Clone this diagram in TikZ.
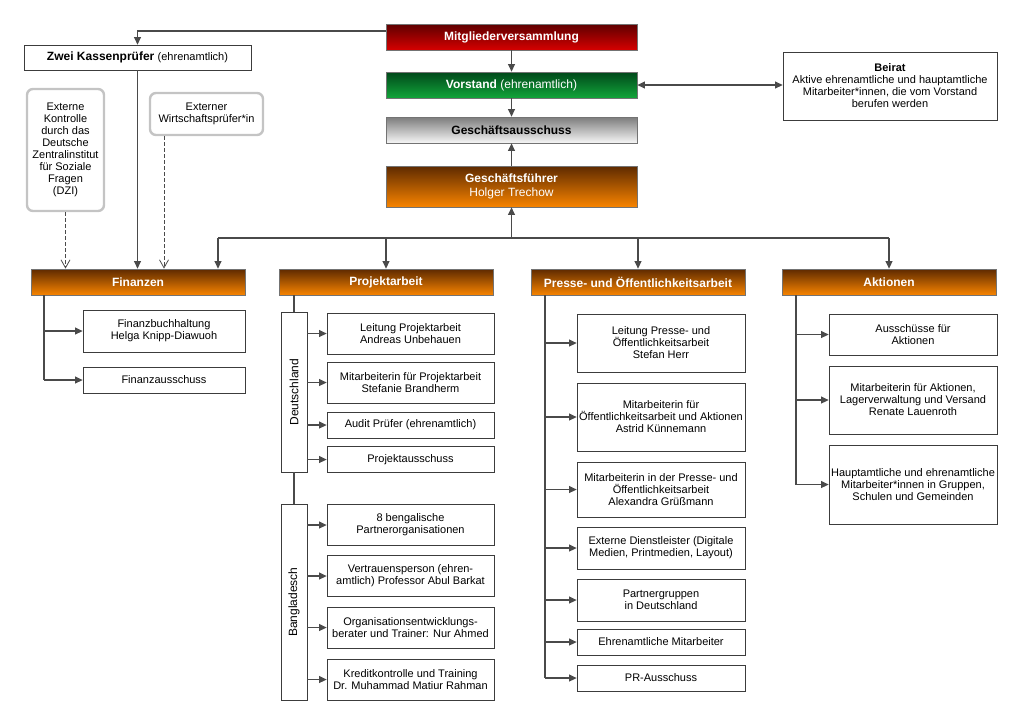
\documentclass[tikz,border=0pt]{standalone}
\usepackage{fontspec}
\setmainfont{Liberation Sans}
\usetikzlibrary{arrows.meta}

\definecolor{linegray}{HTML}{4A4A4A}
\definecolor{boxgray}{HTML}{3C3C3C}
\definecolor{softgray}{HTML}{C4C4C4}
\definecolor{redtop}{HTML}{5E0000}
\definecolor{redbot}{HTML}{D60000}
\definecolor{greentop}{HTML}{00481A}
\definecolor{greenbot}{HTML}{12A53A}
\definecolor{graytop}{HTML}{7C7C7C}
\definecolor{graybot}{HTML}{F6F6F6}
\definecolor{orangetop}{HTML}{5E2A00}
\definecolor{orangebot}{HTML}{F88400}

\tikzset{
  conn/.style={draw=linegray, line width=1.1pt},
  arr/.style={conn, -{Triangle[length=7.5pt,width=7pt]}},
  dasharr/.style={draw=linegray, line width=0.8pt, dash pattern=on 4pt off 2pt,
    -{Straight Barb[length=8pt,width=9pt]}},
  plainbox/.style={draw=boxgray, fill=white, line width=0.8pt, align=center,
    inner sep=0pt, font=\fontsize{11}{12}\selectfont},
  softbox/.style={draw=softgray, fill=white, line width=2.4pt, rounded corners=6pt,
    align=center, inner sep=0pt, font=\fontsize{11}{12}\selectfont},
  headbox/.style={draw=black!55, line width=0.8pt, align=center, inner sep=0pt,
    text=white, font=\fontsize{12}{13.3}\selectfont\bfseries,
    top color=orangetop, bottom color=orangebot},
  topbox/.style={headbox, minimum width=251pt, minimum height=26pt},
  sidebox/.style={plainbox, minimum width=26pt, font=\fontsize{12}{13}\selectfont},
}

\begin{document}
\begin{tikzpicture}[x=1pt,y=-1pt]
\useasboundingbox (0,0) rectangle (1024,724);

% Leitung in der Mitte
\node[topbox, top color=redtop, bottom color=redbot] (mv) at (511.5,37) {Mitgliederversammlung};
\node[topbox, top color=greentop, bottom color=greenbot] (vs) at (511.5,85)
  {Vorstand \mdseries(ehrenamtlich)};
\node[topbox, top color=graytop, bottom color=graybot, text=black] (ga) at (511.5,130) {Geschäftsausschuss};
\node[topbox, minimum height=41pt] (gf) at (511.5,186.5) {Geschäftsführer\\\mdseries Holger Trechow};

% Beirat
\node[plainbox, minimum width=214pt, minimum height=68pt] (beirat) at (890,86)
  {\textbf{Beirat}\\Aktive ehrenamtliche und hauptamtliche\\Mitarbeiter*innen, die vom Vorstand\\berufen werden};

% Kassenpruefer und externe Pruefung
\node[plainbox, minimum width=227pt, minimum height=25pt] (kp) at (137.5,57.5)
  {\fontsize{12}{13}\selectfont\textbf{Zwei Kassenprüfer} {\fontsize{11}{12}\selectfont(ehrenamtlich)}};
\node[softbox, minimum width=77pt, minimum height=122pt] (dzi) at (65.5,150)
  {Externe\\Kontrolle\\durch das\\Deutsche\\Zentralinstitut\\für Soziale\\Fragen\\(DZI)};
\node[softbox, minimum width=113pt, minimum height=42pt] (wp) at (206.5,114)
  {Externer\\Wirtschaftsprüfer*in};

% Die vier Bereiche
\node[headbox, minimum width=214pt, minimum height=26pt] (fin) at (138,282) {Finanzen};
\node[headbox, minimum width=214pt, minimum height=26pt] (proj) at (386,282) {Projektarbeit};
\node[headbox, minimum width=214pt, minimum height=26pt] (pres) at (638,282) {Presse- und Öffentlichkeitsarbeit};
\node[headbox, minimum width=214pt, minimum height=26pt] (akt) at (889,282) {Aktionen};

% Finanzen
\node[plainbox, minimum width=162pt, minimum height=42pt] (fb) at (164,331) {Finanzbuchhaltung\\Helga Knipp-Diawuoh};
\node[plainbox, minimum width=162pt, minimum height=26pt] (fa) at (164,380) {Finanzausschuss};

% Projektarbeit
\node[sidebox, minimum height=160pt] (de) at (294,392) {\rotatebox{90}{Deutschland}};
\node[sidebox, minimum height=196pt] (bd) at (294,602) {\rotatebox{90}{Bangladesch}};
\node[plainbox, minimum width=167pt, minimum height=41pt] (p1) at (410.5,333.5) {Leitung Projektarbeit\\Andreas Unbehauen};
\node[plainbox, minimum width=167pt, minimum height=41pt] (p2) at (410.5,382.5) {Mitarbeiterin für Projektarbeit\\Stefanie Brandherm};
\node[plainbox, minimum width=167pt, minimum height=26pt] (p3) at (410.5,425) {Audit Prüfer (ehrenamtlich)};
\node[plainbox, minimum width=167pt, minimum height=26pt] (p4) at (410.5,459.5) {Projektausschuss};
\node[plainbox, minimum width=167pt, minimum height=41pt] (p5) at (410.5,525) {8 bengalische\\Partnerorganisationen};
\node[plainbox, minimum width=167pt, minimum height=41pt] (p6) at (410.5,576) {Vertrauensperson (ehren-\\amtlich) Professor Abul Barkat};
\node[plainbox, minimum width=167pt, minimum height=41pt] (p7) at (410.5,627.5) {Organisationsentwicklungs-\\berater und Trainer: Nur Ahmed};
\node[plainbox, minimum width=167pt, minimum height=41pt] (p8) at (410.5,679.5) {Kreditkontrolle und Training\\Dr. Muhammad Matiur Rahman};

% Presse- und Oeffentlichkeitsarbeit
\node[plainbox, minimum width=168pt, minimum height=58pt] (r1) at (661,343) {Leitung Presse- und\\Öffentlichkeitsarbeit\\Stefan Herr};
\node[plainbox, minimum width=168pt, minimum height=68pt] (r2) at (661,417) {Mitarbeiterin für\\Öffentlichkeitsarbeit und Aktionen\\Astrid Künnemann};
\node[plainbox, minimum width=168pt, minimum height=55pt] (r3) at (661,489.5) {Mitarbeiterin in der Presse- und\\Öffentlichkeitsarbeit\\Alexandra Grüßmann};
\node[plainbox, minimum width=168pt, minimum height=42pt] (r4) at (661,548) {Externe Dienstleister (Digitale\\Medien, Printmedien, Layout)};
\node[plainbox, minimum width=168pt, minimum height=42pt] (r5) at (661,600) {Partnergruppen\\in Deutschland};
\node[plainbox, minimum width=168pt, minimum height=26pt] (r6) at (661,642) {Ehrenamtliche Mitarbeiter};
\node[plainbox, minimum width=168pt, minimum height=26pt] (r7) at (661,678) {PR-Ausschuss};

% Aktionen
\node[plainbox, minimum width=168pt, minimum height=41pt] (a1) at (913,334.5) {Ausschüsse für\\Aktionen};
\node[plainbox, minimum width=168pt, minimum height=68pt] (a2) at (913,400) {Mitarbeiterin für Aktionen,\\Lagerverwaltung und Versand\\Renate Lauenroth};
\node[plainbox, minimum width=168pt, minimum height=79pt] (a3) at (913,484.5) {Hauptamtliche und ehrenamtliche\\Mitarbeiter*innen in Gruppen,\\Schulen und Gemeinden};

% Hilfspunkte fuer die Linien
\coordinate (bus) at (511.5,238);
\coordinate (finx) at (218,0);
\coordinate (wpx) at (164,0);
\coordinate (fint) at (44,0);
\coordinate (prest) at (545,0);
\coordinate (aktt) at (796,0);

% Verbindungen oben
\draw[arr] ([yshift=6pt]mv.west) -| (kp.north);
\draw[arr] (mv.south) -- (vs.north);
\draw[arr] (vs.south) -- (ga.north);
\draw[arr] (gf.north) -- (ga.south);
\draw[conn, {Triangle[length=7.5pt,width=7pt]}-{Triangle[length=7.5pt,width=7pt]}] (vs.east) -- (vs.east -| beirat.west);
\draw[arr] (kp.south) -- (kp.south |- fin.north);
\draw[dasharr] (dzi.south) -- (dzi.south |- fin.north);
\draw[dasharr] (wp.south -| wpx) -- (fin.north -| wpx);

% Verteiler unter dem Geschaeftsfuehrer
\draw[arr] (bus) -- (gf.south);
\draw[conn] (bus -| finx) -- (bus -| akt);
\draw[arr] (bus -| finx) -- (fin.north -| finx);
\foreach \n in {proj,pres,akt}
  \draw[arr] (bus -| \n) -- (\n.north);

% Finanzen
\draw[conn] (fin.south -| fint) -- (fa.west -| fint);
\foreach \n in {fb,fa}
  \draw[arr] (\n.west -| fint) -- (\n.west);

% Projektarbeit
\draw[conn] (proj.south -| de) -- (de.north);
\draw[conn] (de.south) -- (bd.north);
\foreach \n in {p1,p2,p3,p4}
  \draw[arr] (\n.west -| de.east) -- (\n.west);
\foreach \n in {p5,p6,p7,p8}
  \draw[arr] (\n.west -| bd.east) -- (\n.west);

% Presse- und Oeffentlichkeitsarbeit
\draw[conn] (pres.south -| prest) -- (r7.west -| prest);
\foreach \n in {r1,r2,r3,r4,r5,r6,r7}
  \draw[arr] (\n.west -| prest) -- (\n.west);

% Aktionen
\draw[conn] (akt.south -| aktt) -- (a3.west -| aktt);
\foreach \n in {a1,a2,a3}
  \draw[arr] (\n.west -| aktt) -- (\n.west);

\end{tikzpicture}
\end{document}
